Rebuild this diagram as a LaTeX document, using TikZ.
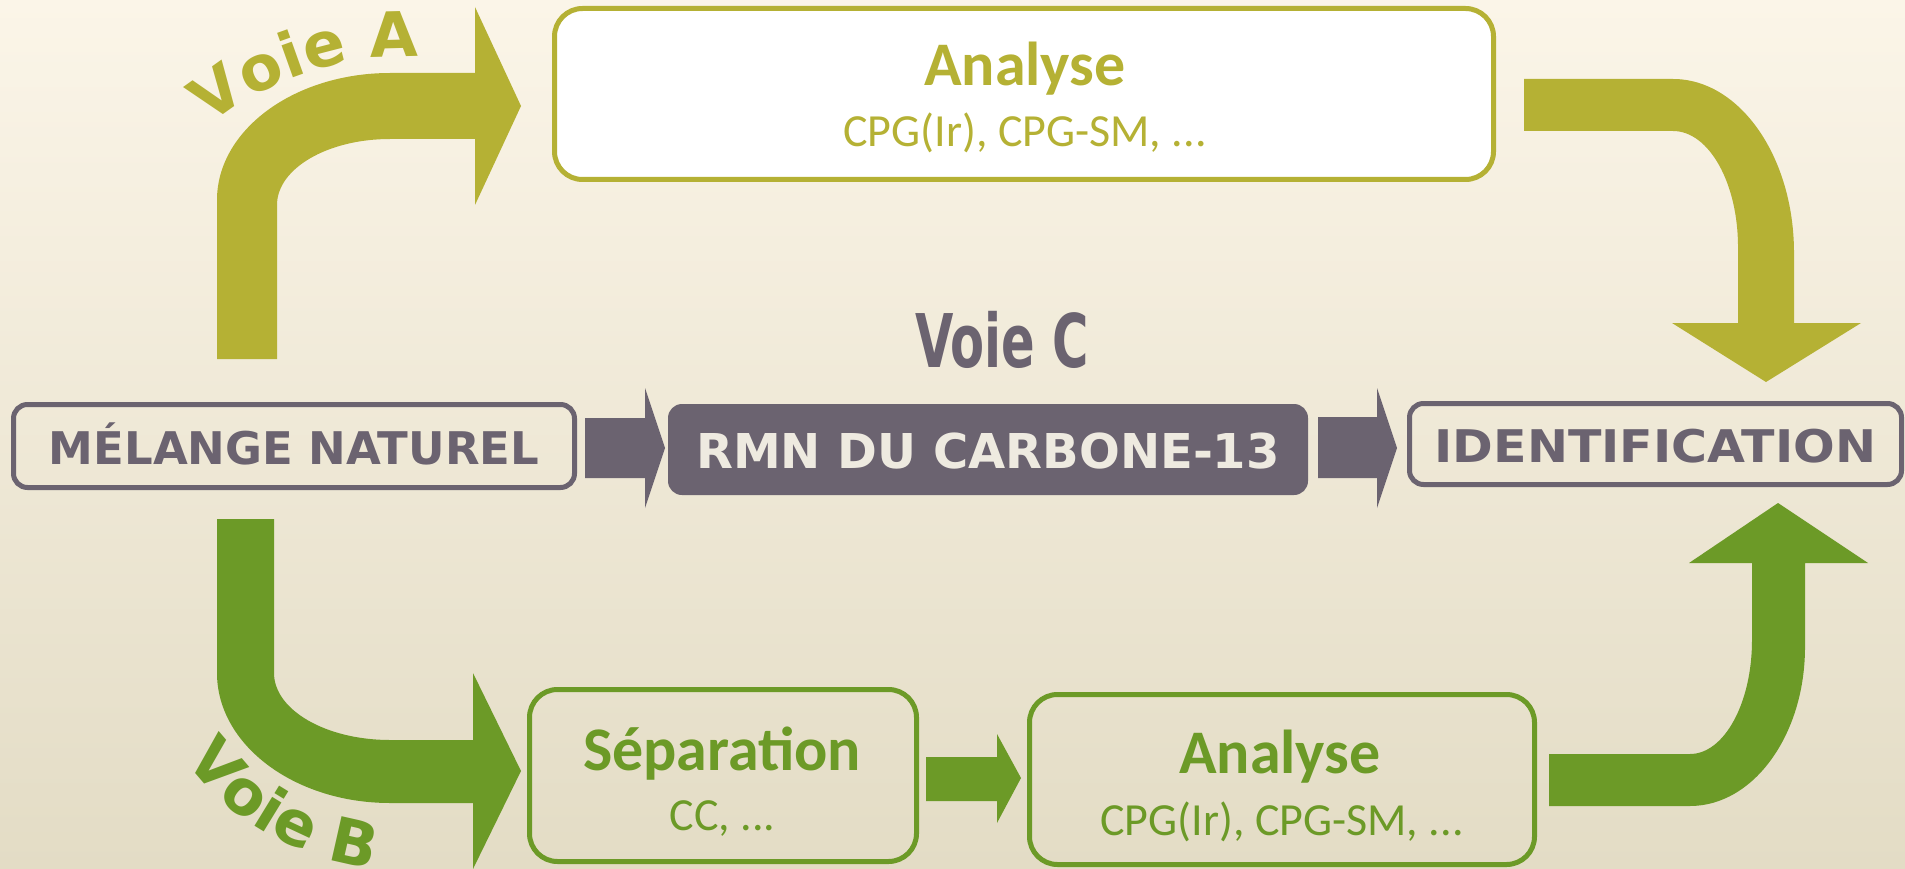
\documentclass[tikz,border=0pt]{standalone}
\usepackage{fontspec}
\usepackage{graphicx}
\usetikzlibrary{decorations.text}
\newfontfamily\dvsans{DejaVu Sans}
\newfontfamily\carl{Carlito}
\newcommand\mycaps[1]{\dvsans\bfseries\fontsize{#1}{#1}\selectfont}
\newcommand\mycal[1]{\carl\fontsize{#1}{#1}\selectfont}
\newcommand\mycalb[1]{\carl\bfseries\fontsize{#1}{#1}\selectfont}
\definecolor{oliveA}{HTML}{B5B134}
\definecolor{greenB}{HTML}{6C9A27}
\definecolor{greyC}{HTML}{6B6370}
\definecolor{creamT}{HTML}{EEEAE0}
\definecolor{bgtop}{HTML}{FBF5E8}
\definecolor{bgbot}{HTML}{E3DCC5}
\begin{document}
\begin{tikzpicture}[x=1pt,y=-1pt,
  greybox/.style={draw=greyC, line width=5pt, rounded corners=14pt, inner sep=0pt,
    text=greyC, font=\mycaps{45}, text height=36pt, text depth=0pt},
  solidbox/.style={fill=greyC, rounded corners=14pt, inner sep=0pt,
    text=creamT, font=\mycaps{48}, text height=37pt, text depth=0pt},
  olivebox/.style={draw=oliveA, fill=white, line width=5pt, rounded corners=28pt, inner sep=0pt},
  greenbox/.style={draw=greenB, line width=5pt, rounded corners=28pt, inner sep=0pt},
  title/.style={anchor=base, inner sep=0pt, font=\mycalb{62}},
  sub/.style={anchor=base, inner sep=0pt, font=\mycal{46}},
]
\useasboundingbox (0,0) rectangle (1905,869);
\shade[top color=bgtop, bottom color=bgbot] (0,0) rectangle (1905,869);

% boxes
\node[greybox, minimum width=561pt, minimum height=83pt] (melange) at (294,446) {MÉLANGE NATUREL};
\node[solidbox, minimum width=640pt, minimum height=91pt] (rmn) at (988,449.5) {RMN DU CARBONE-13};
\node[greybox, minimum width=492pt, minimum height=81pt] (ident) at (1655.5,444) {\scalebox{1.09}[1]{IDENTIFICATION}};
\node[olivebox, minimum width=939pt, minimum height=171pt] (anaA) at (1024,94) {};
\node[greenbox, minimum width=387pt, minimum height=172pt] (sep) at (723,775.5) {};
\node[greenbox, minimum width=505pt, minimum height=170pt] (anaB) at (1282,779.5) {};

% texts in boxes
\node[title, text=oliveA] (anaAt) at (1025,86) {Analyse};
\node[sub, text=oliveA] (anaAs) at (1025,147) {CPG(Ir), CPG-SM, ...};
\node[title, text=greenB] (sept) at (722,770) {Séparation};
\node[sub, text=greenB] (seps) at (722.5,830) {CC, ...};
\node[title, text=greenB] (anaBt) at (1280,773) {Analyse};
\node[sub, text=greenB] (anaBs) at (1282,835) {CPG(Ir), CPG-SM, ...};

% Voie C
\node[anchor=base, inner sep=0pt, text=greyC, font=\mycaps{74}] (voieC) at (1002,367) {\scalebox{0.67}[1]{Voie C}};

% grey arrows
\fill[greyC] (585,418) -- (645,418) -- (645,388) -- (665,448) -- (645,508) -- (645,478) -- (585,478) -- cycle;
\fill[greyC] (1318,417) -- (1377,417) -- (1377,388) -- (1397,448) -- (1377,508) -- (1377,478) -- (1318,478) -- cycle;

% green small arrow
\fill[greenB] (926,757) -- (997,757) -- (997,734) -- (1021,778) -- (997,823) -- (997,801) -- (926,801) -- cycle;

% Voie A arrow
\fill[oliveA] (217,359) -- (217,200) .. controls (217,129.9) and (294.5,73) .. (390,73)
  -- (475,73) -- (475,7) -- (521,106) -- (475,205) -- (475,139) -- (390,139)
  .. controls (327.6,139) and (277,168.5) .. (277,205) -- (277,359) -- cycle;

% Voie B arrow
\fill[greenB] (217,519) -- (217,673) .. controls (217,744.8) and (294.5,803) .. (390,803)
  -- (473,803) -- (473,869) -- (521,771) -- (473,673) -- (473,740) -- (390,740)
  .. controls (325.9,740) and (274,710) .. (274,673) -- (274,519) -- cycle;

% top right arrow
\fill[oliveA] (1524,79) -- (1673,79) .. controls (1739.8,79) and (1794,156.9) .. (1794,253)
  -- (1794,323) -- (1861,323) -- (1766,382) -- (1672,323) -- (1738,323) -- (1738,247)
  .. controls (1738,182.9) and (1708.9,131) .. (1673,131) -- (1524,131) -- cycle;

% bottom right arrow
\fill[greenB] (1549,754) -- (1690,754) .. controls (1724.2,754) and (1752,703) .. (1752,640)
  -- (1752,563) -- (1689,563) -- (1778,503) -- (1868,563) -- (1805,563) -- (1805,647)
  .. controls (1805,734.8) and (1753.5,806) .. (1690,806) -- (1549,806) -- cycle;

% curved labels
\path[decorate, decoration={text along path, text color=oliveA,
   text={|\mycaps{62}|Voie A}}]
  (211,126) .. controls (247,90) and (330,57) .. (400,57) -- (470,57);
\path[decorate, decoration={text along path, text color=greenB,
   text={|\mycaps{62}|Voie B}}]
  (186,760) .. controls (228,822) and (300,858) .. (370,869) -- (440,879);
\end{tikzpicture}
\end{document}
